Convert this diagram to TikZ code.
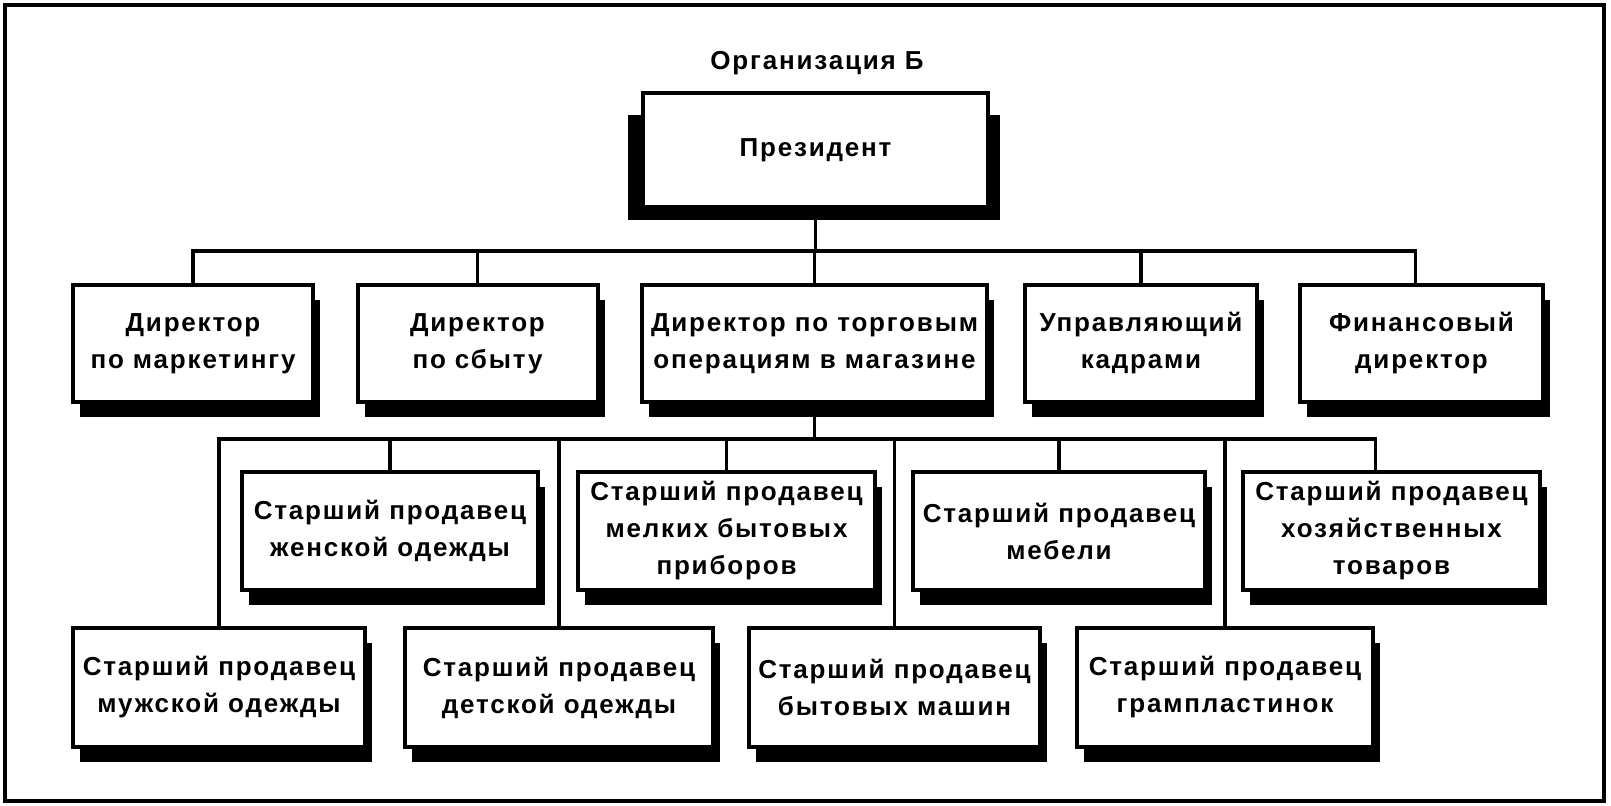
\documentclass[tikz,border=0pt]{standalone}
\usepackage{fontspec}
\usepackage{tikz}
\usetikzlibrary{shadows}
\newfontfamily\orgfont[LetterSpace=7]{Liberation Sans}
\begin{document}
\begin{tikzpicture}[x=0.5pt,y=-0.5pt,
  every node/.style={font=\orgfont\bfseries\fontsize{13pt}{18.5pt}\selectfont,align=center},
  post/.style={draw,line width=2pt,fill=white,inner sep=0pt,minimum height=58.5pt,
    general shadow={fill=black,shadow xshift=3.5pt,shadow yshift=-7.5pt}},
  link/.style={line width=1.7pt}]
\useasboundingbox (0,0) rectangle (1611,806);
\draw[line width=2pt] (5,5) rectangle (1604,801);
\node (title) at (817,63) {Организация Б};
\fill (628,115) rectangle (1000,220);
\node[draw,line width=2pt,fill=white,minimum width=172.5pt,minimum height=57pt]
  (pres) at (815.5,150) {Президент};
\node[post,minimum width=120pt] (dirmark) at (193,343.5) {Директор\\по маркетингу};
\node[post,minimum width=120pt] (dirsb) at (477.5,343.5) {Директор\\по сбыту};
\node[post,minimum width=172.5pt] (dirtorg) at (814.5,343.5) {Директор по торговым\\операциям в магазине};
\node[post,minimum width=116pt] (upr) at (1141,343.5) {Управляющий\\кадрами};
\node[post,minimum width=121.5pt] (fin) at (1421.5,343.5) {Финансовый\\директор};
\node[post,minimum width=148pt,minimum height=59pt] (zhen) at (390,531) {Старший продавец\\женской одежды};
\node[post,minimum width=148.5pt,minimum height=59pt] (melk) at (726.5,531) {Старший продавец\\мелких бытовых\\приборов};
\node[post,minimum width=146pt,minimum height=59pt] (mebel) at (1059,531) {Старший продавец\\мебели};
\node[post,minimum width=148.5pt,minimum height=59pt] (hoz) at (1391.5,531) {Старший продавец\\хозяйственных\\товаров};
\node[post,minimum width=146pt,minimum height=59.5pt] (muzh) at (219,687.5) {Старший продавец\\мужской одежды};
\node[post,minimum width=154pt,minimum height=59.5pt] (det) at (559,687.5) {Старший продавец\\детской одежды};
\node[post,minimum width=145.5pt,minimum height=59.5pt] (mash) at (894.5,687.5) {Старший продавец\\бытовых машин};
\node[post,minimum width=148pt,minimum height=59.5pt] (gram) at (1225,687.5) {Старший продавец\\грампластинок};
\draw[link] (pres.south) -- ++(0,42) coordinate (bus1);
\draw[link] (dirmark.north) |- (bus1) -| ([xshift=-3pt]fin.north);
\foreach \n in {dirsb,dirtorg,upr}
  \draw[link] (\n.north) -- (\n.north |- bus1);
\draw[link] (dirtorg.south) -- ++(0,35) coordinate (bus2);
\draw[link] (muzh.north) |- (bus2) -| ([xshift=-8pt]hoz.north);
\foreach \n in {zhen,melk,mebel,det,mash,gram}
  \draw[link] (\n.north) -- (\n.north |- bus2);
\end{tikzpicture}
\end{document}
